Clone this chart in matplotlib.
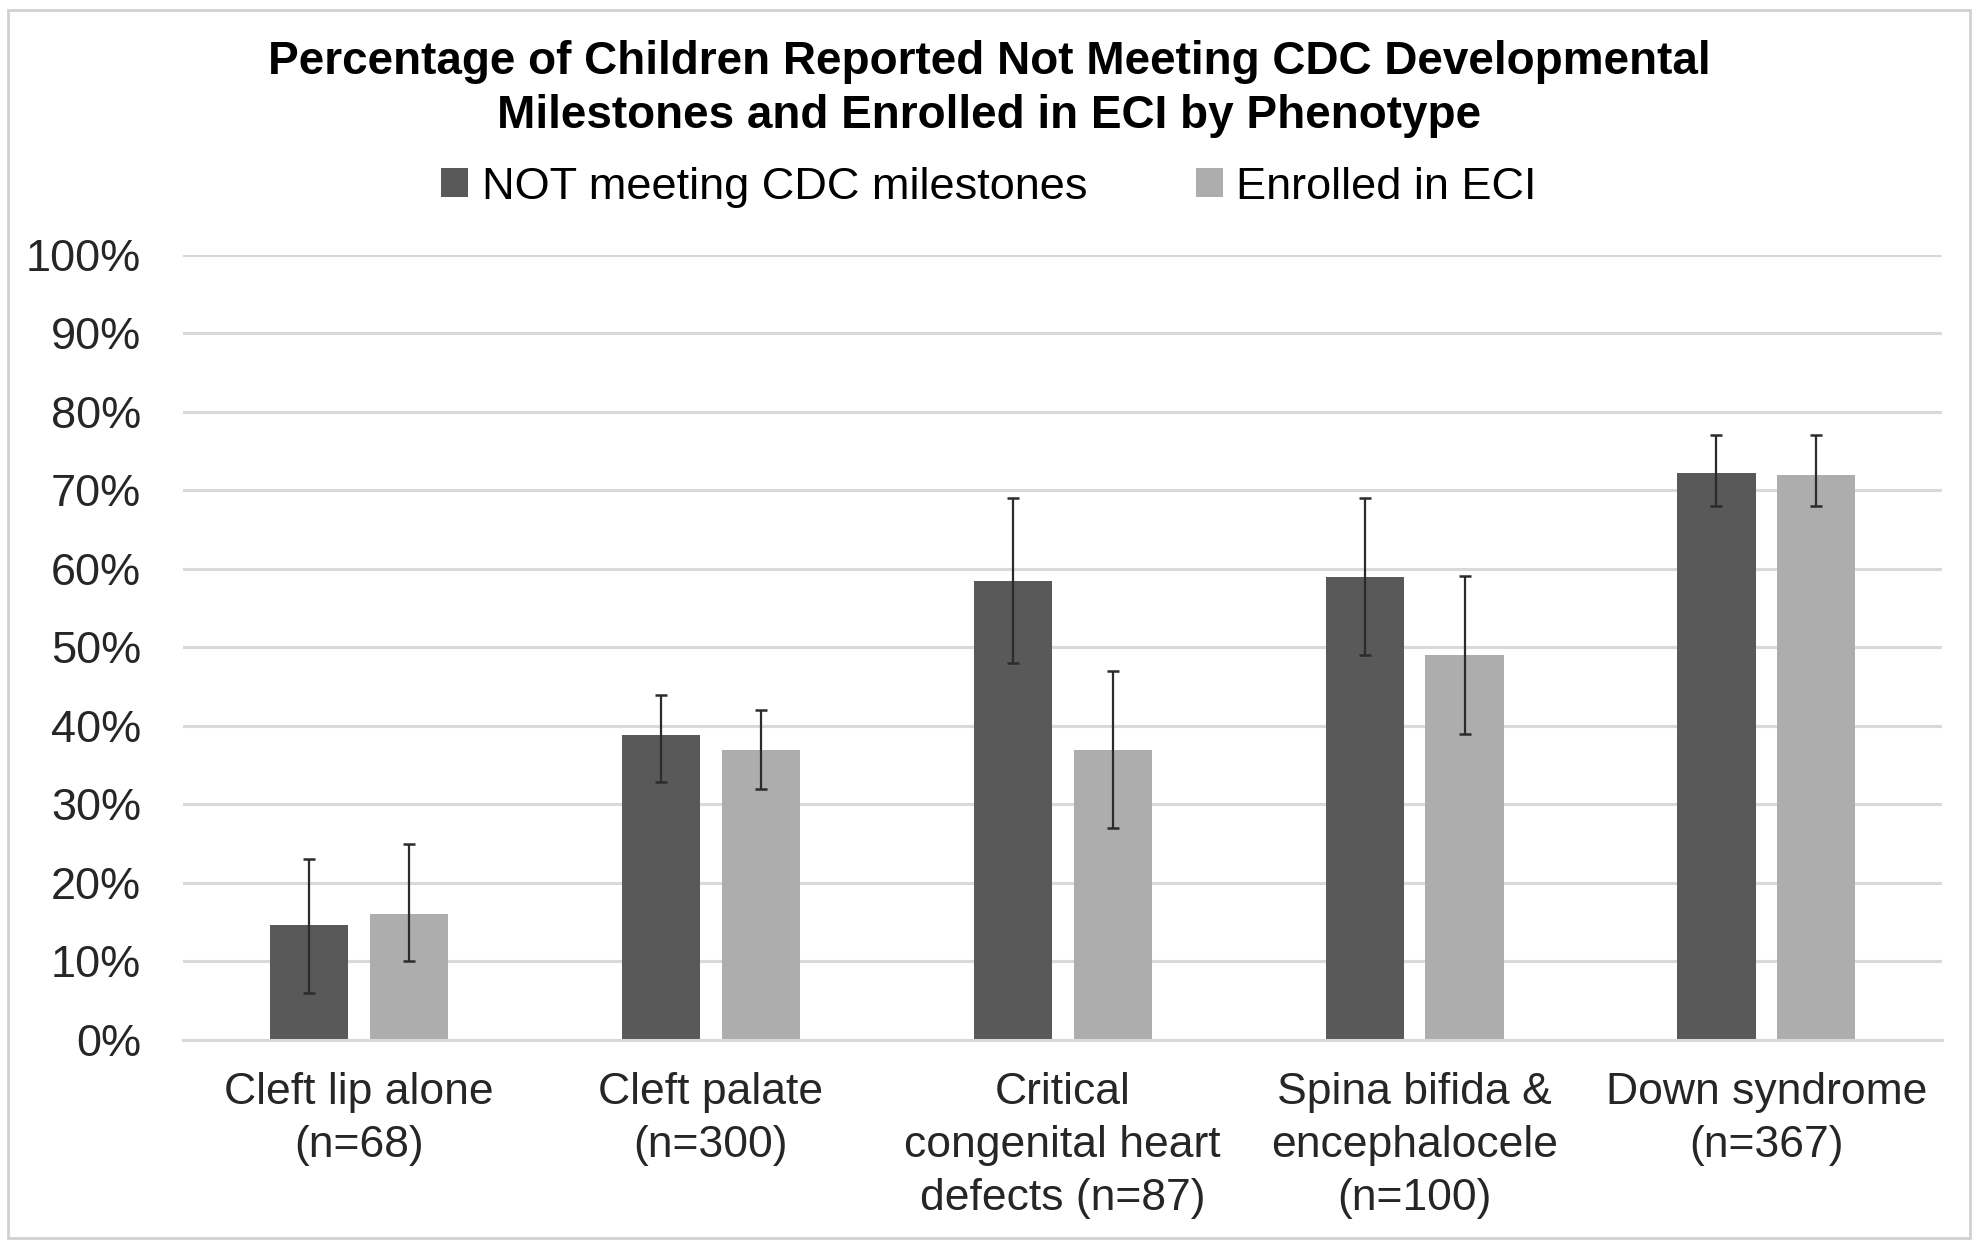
import matplotlib.pyplot as plt
from matplotlib.patches import Rectangle
import numpy as np

plt.rcParams['font.family'] = ['Liberation Sans', 'DejaVu Sans']

# Data
categories = ['Cleft lip alone\n(n=68)', 'Cleft palate\n(n=300)',
              'Critical\ncongenital heart\ndefects (n=87)',
              'Spina bifida &\nencephalocele\n(n=100)', 'Down syndrome\n(n=367)']
not_meeting = [14.6, 38.9, 58.5, 59.0, 72.2]
not_meeting_lo = [6.0, 32.9, 48.0, 49.1, 68.0]
not_meeting_hi = [23.1, 44.0, 69.1, 69.1, 77.1]
enrolled = [16.0, 37.0, 37.0, 49.0, 72.0]
enrolled_lo = [10.0, 32.0, 27.0, 39.0, 68.0]
enrolled_hi = [25.0, 42.0, 47.0, 59.1, 77.1]

dark = '#595959'
light = '#adadad'

fig = plt.figure(figsize=(19.78, 12.48), dpi=100)
ax = fig.add_axes([0.0925, 0.1667, 0.982 - 0.0925, 0.7957 - 0.1667])

x = np.arange(len(categories))
w = 0.222
off = 0.142

nm = np.array(not_meeting)
en = np.array(enrolled)
nm_err = [nm - np.array(not_meeting_lo), np.array(not_meeting_hi) - nm]
en_err = [en - np.array(enrolled_lo), np.array(enrolled_hi) - en]

ax.bar(x - off, nm, w, color=dark, label='NOT meeting CDC milestones', zorder=2)
ax.bar(x + off, en, w, color=light, label='Enrolled in ECI', zorder=2)
ax.errorbar(x - off, nm, yerr=nm_err, fmt='none', ecolor='#2b2b2b',
            elinewidth=1.6, capsize=4, capthick=1.8, zorder=3)
ax.errorbar(x + off, en, yerr=en_err, fmt='none', ecolor='#2b2b2b',
            elinewidth=1.6, capsize=4, capthick=1.8, zorder=3)

ax.set_xlim(-0.5, len(categories) - 0.5)
ax.set_ylim(0, 100)
ax.set_yticks(range(0, 101, 10))
ax.set_yticklabels([f'{v}%' for v in range(0, 101, 10)])
ax.yaxis.grid(True, color='#d9d9d9', linewidth=2.2, zorder=0)
ax.set_axisbelow(True)
for s in ['top', 'right', 'left']:
    ax.spines[s].set_visible(False)
ax.spines['bottom'].set_color('#d9d9d9')
ax.spines['bottom'].set_linewidth(2.2)

ax.set_xticks(x)
ax.set_xticklabels(categories, linespacing=1.37)
ax.tick_params(axis='y', length=0, pad=30, labelsize=32.5, labelcolor='#262626')
ax.tick_params(axis='x', length=0, pad=23, labelsize=32, labelcolor='#262626')

fig.text(0.5, 0.968, 'Percentage of Children Reported Not Meeting CDC Developmental\n'
         'Milestones and Enrolled in ECI by Phenotype',
         ha='center', va='top', fontsize=33, fontweight='bold', linespacing=1.3)

fig.legend(loc='center', bbox_to_anchor=(0.5, 0.85), ncol=2, frameon=False,
           fontsize=32.5, handlelength=0.6, handleheight=0.6, handletextpad=0.3,
           columnspacing=2.4)

# light frame around the whole chart
fig.patches.append(Rectangle((0.004, 0.008), 0.992, 0.984, transform=fig.transFigure,
                             fill=False, edgecolor='#d0d0d0', linewidth=2))

fig.savefig('out.png', dpi=100)
